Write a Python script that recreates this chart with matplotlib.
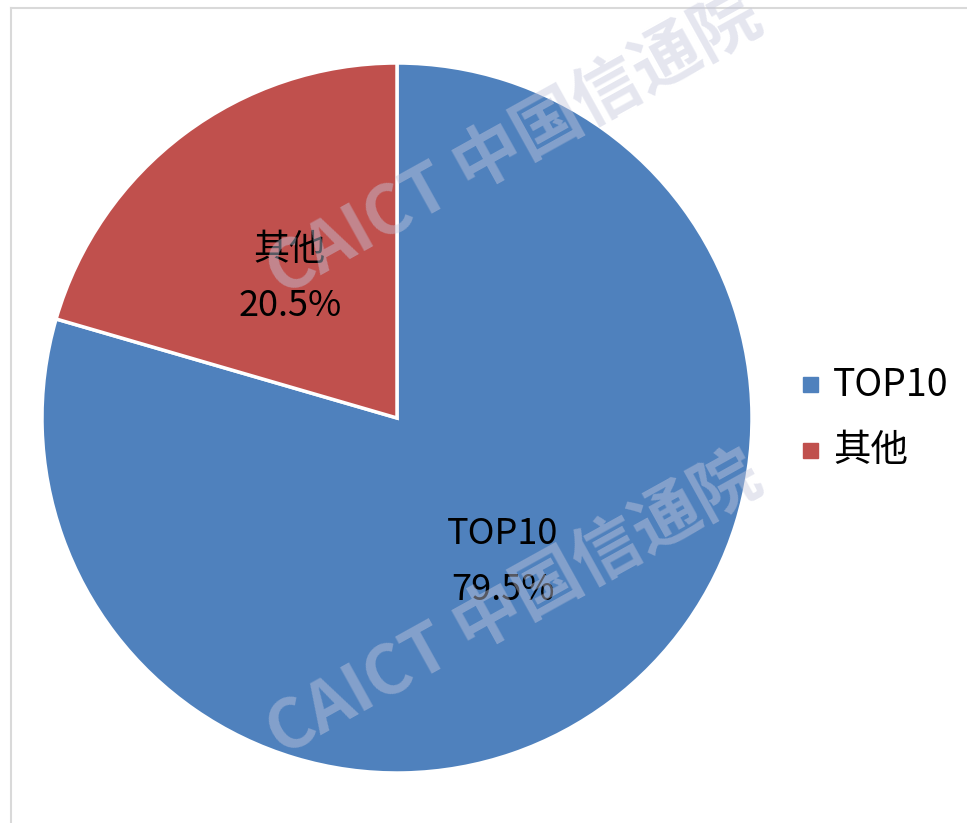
import matplotlib
matplotlib.use("Agg")
import matplotlib.pyplot as plt
from matplotlib.lines import Line2D
from matplotlib.patches import Rectangle

plt.rcParams['font.family'] = ['Noto Sans CJK SC', 'DejaVu Sans']

categories = ['TOP10', '其他']
values = [79.5, 20.5]
colors = ['#4F81BD', '#C0504D']

W, H = 967, 823
fig = plt.figure(figsize=(W / 100, H / 100), dpi=100)
fig.patch.set_facecolor('white')

# frame border (left and top visible)
fig.add_artist(Line2D([11 / W, 11 / W], [0, 1 - 8 / H], transform=fig.transFigure,
                      color='#d9d9d9', lw=1.5))
fig.add_artist(Line2D([11 / W, 1], [1 - 8 / H, 1 - 8 / H], transform=fig.transFigure,
                      color='#d9d9d9', lw=1.5))

cx, cy, r = 397, 418, 355
ax = fig.add_axes([(cx - r) / W, (H - cy - r) / H, 2 * r / W, 2 * r / H])
wedges, _ = ax.pie(values, colors=colors, startangle=90, counterclock=False,
                   radius=1.0, wedgeprops=dict(edgecolor='white', linewidth=2.5))
ax.set_xlim(-1, 1)
ax.set_ylim(-1, 1)
ax.set_aspect('equal')
ax.axis('off')

# data labels
label_pos = [(503, 562), (290, 278)]
for (px, py), cat, v in zip(label_pos, categories, values):
    fig.text(px / W, 1 - py / H, f'{cat}\n{v:.1f}%', ha='center', va='center',
             fontsize=26, linespacing=1.7, color='black')

# legend
leg_rows = [385, 451]
for y, cat, col in zip(leg_rows, categories, colors):
    fig.add_artist(Rectangle((803 / W, 1 - (y + 7) / H), 15 / W, 15 / H,
                             transform=fig.transFigure, color=col))
    fig.text(833 / W, 1 - y / H, cat, ha='left', va='center', fontsize=27, color='black')

# watermark
for (px, py) in [(515, 145), (515, 605)]:
    fig.text(px / W, 1 - py / H, 'CAICT 中国信通院', ha='center', va='center',
             rotation=29, fontsize=49, fontweight='bold', color='#c5c8dd',
             alpha=0.45, style='italic')

fig.savefig('out.png', dpi=100, facecolor='white')
